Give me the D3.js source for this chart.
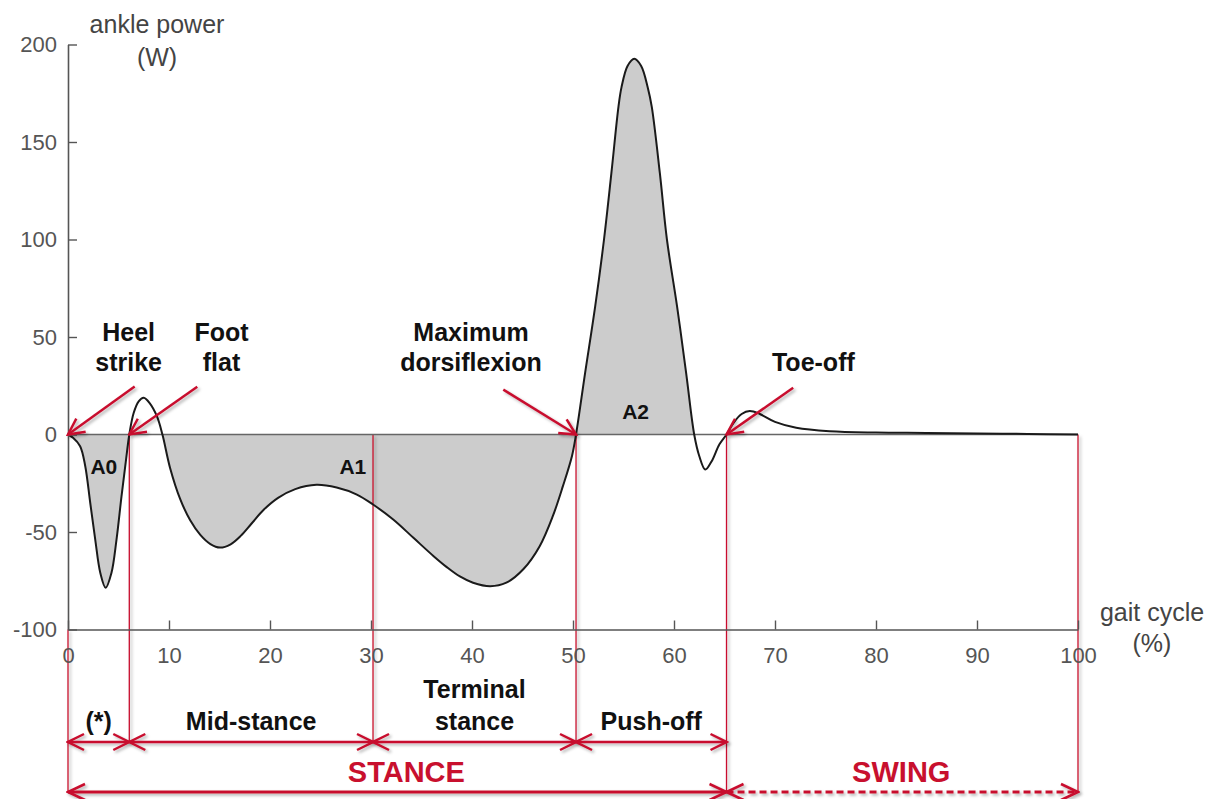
<!DOCTYPE html>
<html>
<head>
<meta charset="utf-8">
<script src="https://cdn.jsdelivr.net/npm/d3@7"></script>
<style>
  body { margin: 0; background: #fff; }
  svg { display: block; font-family: "Liberation Sans", Arial, sans-serif; }
</style>
</head>
<body>
<div id="chart"></div>
<script>
// ankle power over the gait cycle
const gaitPct = [0, 0.5, 1.2, 1.7, 2.2, 2.7, 3.2, 3.73, 4.3, 4.8, 5.3, 5.75, 6.07, 6.5, 7.0, 7.5, 8.1, 8.8, 9.35,
  10.1, 11.1, 12.1, 13.1, 14.1, 15.05, 16.1, 17.1, 18.2, 19.4, 20.8, 22.5, 24.6, 26.6, 28.6, 30.2, 32.2, 34.2,
  36.2, 37.5, 38.8, 40.1, 41.8, 43.4, 45.1, 46.7, 48.0, 49.0, 49.9, 50.3, 51.2, 52.2, 53.07, 53.8, 54.5, 54.8, 55.4,
  56.07, 56.75, 57.4, 57.8, 58.6, 59.3, 60.3, 61.2, 62.0, 62.5, 63.1, 63.7, 64.5, 65.2, 65.9, 66.7, 67.5, 68.5, 70,
  72.1, 75.4, 80, 85, 90, 95, 100];
const power = [0, -1.7, -6, -16, -35, -54, -71, -78.6, -71, -54, -31.6, -12.8, 0, 11, 17, 18.8, 16, 9.4, 0,
  -17, -33, -44, -51.5, -56.2, -58, -56.3, -52, -45.5, -38.5, -32.5, -28, -25.8, -27.2, -30.8, -35.9, -43.6, -53,
  -62.4, -68, -72.8, -76, -77.8, -76, -69, -57.3, -41.9, -26.5, -11, 0, 31.6, 65.8, 100, 134, 168, 178, 189,
  192.7, 189, 178, 168, 134, 100, 65.8, 31.6, 0, -11, -18, -14, -5, 0, 6, 10.5, 12, 10.5, 6.5,
  3.5, 1.7, 1.0, 0.8, 0.5, 0.3, 0];

const xTicks = [0, 10, 20, 30, 40, 50, 60, 70, 80, 90, 100];
const yTicks = [-100, -50, 0, 50, 100, 150, 200];

// shaded work areas (gait %)
const fillRanges = [[0, 6.07], [9.35, 62.0]];
const areaLabels = [
  { name: "A0", x: 3.55, v: -20 },
  { name: "A1", x: 28.2, v: -20 },
  { name: "A2", x: 56.2, v: 8 }
];

// events with arrows pointing at the zero line
const events = [
  { lines: ["Heel", "strike"], x: 6.0, fromX: 6.6, fromV: 24.6, toX: 0 },
  { lines: ["Foot", "flat"], x: 15.2, fromX: 12.8, fromV: 24.5, toX: 6.07 },
  { lines: ["Maximum", "dorsiflexion"], x: 39.9, fromX: 43.1, fromV: 23, toX: 50.3 },
  { lines: ["Toe-off"], x: 73.8, fromX: 71.8, fromV: 24, toX: 65.2 }
];

const phases = [
  { lines: ["(*)"], from: 0, to: 6.07 },
  { lines: ["Mid-stance"], from: 6.07, to: 30.2 },
  { lines: ["Terminal", "stance"], from: 30.2, to: 50.3 },
  { lines: ["Push-off"], from: 50.3, to: 65.2 }
];
const periods = [
  { name: "STANCE", from: 0, to: 65.2, labelX: 33.5, dashed: false },
  { name: "SWING", from: 65.2, to: 100, labelX: 82.5, dashed: true }
];

const width = 1222, height = 799;
const red = "#c8102e";
const phaseY = 742, periodY = 792;

const x = d3.scaleLinear().domain([0, 100]).range([68, 1078]);
const y = d3.scaleLinear().domain([-100, 200]).range([629.5, 44.5]);

const svg = d3.select("#chart").append("svg")
  .attr("width", width)
  .attr("height", height);

const defs = svg.append("defs");
// user space region so flat horizontal lines keep their shadow
const shadow = defs.append("filter").attr("id", "shadow")
  .attr("filterUnits", "userSpaceOnUse")
  .attr("x", 0).attr("y", 0).attr("width", width).attr("height", height);
shadow.append("feDropShadow")
  .attr("dx", 2).attr("dy", 2).attr("stdDeviation", 1.6)
  .attr("flood-color", "#000").attr("flood-opacity", 0.3);

function arrowMarker(id, len, half) {
  defs.append("marker")
    .attr("id", id)
    .attr("markerUnits", "userSpaceOnUse")
    .attr("viewBox", `${-len - 2} ${-half - 2} ${len + 4} ${2 * half + 4}`)
    .attr("refX", 0).attr("refY", 0)
    .attr("markerWidth", len + 4).attr("markerHeight", 2 * half + 4)
    .attr("orient", "auto-start-reverse")
    .append("path")
    .attr("d", `M${-len},${-half}L0,0L${-len},${half}`)
    .attr("fill", "none")
    .attr("stroke", red)
    .attr("stroke-width", 2.5)
    .attr("stroke-dasharray", "none");
}
arrowMarker("head", 16, 8);
arrowMarker("headBig", 17, 8);

// clip for the shaded areas
fillRanges.forEach((r, i) => {
  defs.append("clipPath").attr("id", "clip" + i)
    .append("rect")
    .attr("x", x(r[0])).attr("y", 0)
    .attr("width", x(r[1]) - x(r[0])).attr("height", height);
});

const data = gaitPct.map((g, i) => ({ g, p: power[i] }));
const curve = d3.curveCatmullRom.alpha(0.5);

const area = d3.area()
  .x(d => x(d.g))
  .y0(y(0))
  .y1(d => y(d.p))
  .curve(curve);

const line = d3.line()
  .x(d => x(d.g))
  .y(d => y(d.p))
  .curve(curve);

fillRanges.forEach((r, i) => {
  svg.append("path")
    .datum(data)
    .attr("clip-path", `url(#clip${i})`)
    .attr("d", area)
    .attr("fill", "#cccccc");
});

// red boundary lines
const boundaries = [0, 6.07, 30.2, 50.3, 65.2, 100];
const periodEdges = new Set(periods.flatMap(p => [p.from, p.to]));
svg.append("g").attr("filter", "url(#shadow)")
  .selectAll("line")
  .data(boundaries)
  .join("line")
  .attr("x1", d => x(d)).attr("x2", d => x(d))
  .attr("y1", d => d === 0 ? y(-100) : y(0))
  .attr("y2", d => periodEdges.has(d) ? periodY : phaseY)
  .attr("stroke", red)
  .attr("stroke-width", 1.3);

// zero line
svg.append("line")
  .attr("x1", x(0)).attr("x2", x(100))
  .attr("y1", y(0)).attr("y2", y(0))
  .attr("stroke", "#666")
  .attr("stroke-width", 1.6);

// power curve
svg.append("path")
  .datum(data)
  .attr("d", line)
  .attr("fill", "none")
  .attr("stroke", "#1a1a1a")
  .attr("stroke-width", 2);

// axes
const fmt = d => String(d);
const xAxis = svg.append("g")
  .attr("transform", `translate(0,${y(-100)})`)
  .call(d3.axisBottom(x).tickValues(xTicks).tickFormat(fmt).tickSizeInner(-9).tickSizeOuter(0).tickPadding(18));
const yAxis = svg.append("g")
  .attr("transform", `translate(${x(0)},0)`)
  .call(d3.axisLeft(y).tickValues(yTicks).tickFormat(fmt).tickSizeInner(-9).tickSizeOuter(0).tickPadding(11));

[xAxis, yAxis].forEach(a => {
  a.select(".domain").attr("stroke", "#555").attr("stroke-width", 1.6);
  a.selectAll(".tick line").attr("stroke", "#555").attr("stroke-width", 1.4);
  a.selectAll(".tick text")
    .attr("fill", "#555")
    .attr("font-size", 22)
    .attr("font-family", "'Liberation Sans', Arial, sans-serif");
});

// axis titles
const titleStyle = sel => sel.attr("fill", "#444").attr("font-size", 25).attr("text-anchor", "middle");
svg.append("text").call(titleStyle).attr("x", 157).attr("y", 33).text("ankle power");
svg.append("text").call(titleStyle).attr("x", 157).attr("y", 66).text("(W)");
svg.append("text").call(titleStyle).attr("x", 1152).attr("y", 621).text("gait cycle");
svg.append("text").call(titleStyle).attr("x", 1152).attr("y", 652).text("(%)");

// area labels
svg.selectAll("text.area-label")
  .data(areaLabels)
  .join("text")
  .attr("class", "area-label")
  .attr("x", d => x(d.x))
  .attr("y", d => y(d.v))
  .attr("text-anchor", "middle")
  .attr("font-weight", "bold")
  .attr("font-size", 21)
  .attr("fill", "#111")
  .text(d => d.name);

// event annotations
const ev = svg.selectAll("g.event").data(events).join("g").attr("class", "event");
ev.append("line")
  .attr("x1", d => x(d.fromX)).attr("y1", d => y(d.fromV))
  .attr("x2", d => x(d.toX)).attr("y2", y(0))
  .attr("stroke", red)
  .attr("stroke-width", 2.5)
  .attr("marker-end", "url(#head)")
  .attr("filter", "url(#shadow)");
ev.each(function (d) {
  const g = d3.select(this);
  const base = d.lines.length === 1 ? [32.5] : [48, 32.5];
  d.lines.forEach((t, i) => {
    g.append("text")
      .attr("x", x(d.x))
      .attr("y", y(base[i]))
      .attr("text-anchor", "middle")
      .attr("font-weight", "bold")
      .attr("font-size", 25)
      .attr("fill", "#111")
      .text(t);
  });
});

// phase arrows
const ph = svg.selectAll("g.phase").data(phases).join("g").attr("class", "phase");
ph.append("line")
  .attr("x1", d => x(d.from)).attr("x2", d => x(d.to))
  .attr("y1", phaseY).attr("y2", phaseY)
  .attr("stroke", red)
  .attr("stroke-width", 2.5)
  .attr("marker-start", "url(#head)")
  .attr("marker-end", "url(#head)")
  .attr("filter", "url(#shadow)");
ph.each(function (d) {
  const g = d3.select(this);
  const base = d.lines.length === 1 ? [730] : [698, 730];
  d.lines.forEach((t, i) => {
    g.append("text")
      .attr("x", x((d.from + d.to) / 2))
      .attr("y", base[i])
      .attr("text-anchor", "middle")
      .attr("font-weight", "bold")
      .attr("font-size", 25)
      .attr("fill", "#111")
      .text(t);
  });
});

// stance / swing
const pr = svg.selectAll("g.period").data(periods).join("g").attr("class", "period");
pr.append("line")
  .attr("x1", d => x(d.from)).attr("x2", d => x(d.to))
  .attr("y1", periodY).attr("y2", periodY)
  .attr("stroke", red)
  .attr("stroke-width", 3)
  .attr("stroke-dasharray", d => d.dashed ? "7,4" : null)
  .attr("marker-start", "url(#headBig)")
  .attr("marker-end", "url(#headBig)")
  .attr("filter", "url(#shadow)");
pr.append("text")
  .attr("x", d => x(d.labelX))
  .attr("y", 782)
  .attr("text-anchor", "middle")
  .attr("font-weight", "bold")
  .attr("font-size", 29)
  .attr("fill", red)
  .text(d => d.name);
</script>
</body>
</html>
